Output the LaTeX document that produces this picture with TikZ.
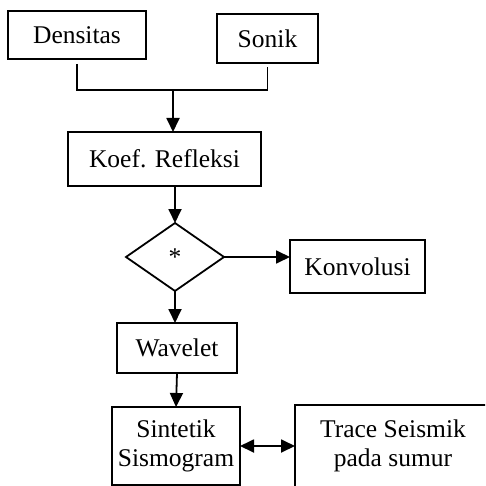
\documentclass[tikz,border=0pt]{standalone}
\usepackage{fontspec}
\setmainfont{Liberation Serif}
\usetikzlibrary{shapes.geometric,arrows.meta}
\begin{document}
\begin{tikzpicture}[x=1pt,y=-1pt,
  box/.style={draw,line width=1.8pt,inner sep=0pt,outer sep=0pt,align=center,
    font=\fontsize{25.5}{29}\selectfont},
  dia/.style={draw,diamond,line width=1.8pt,inner sep=0pt,outer sep=0pt,
    font=\fontsize{25.5}{29}\selectfont},
  arr/.style={line width=1.8pt,-{Triangle[length=14pt,width=13pt]}},
  darr/.style={line width=1.8pt,{Triangle[length=14pt,width=13pt]}-{Triangle[length=14pt,width=13pt]}},
  ln/.style={line width=1.8pt}]
\useasboundingbox (0,0) rectangle (485,486);
\clip (0,0) rectangle (485,486);
\fill[white] (0,0) rectangle (485,486);
\node[box,minimum width=138pt,minimum height=48pt] (dens) at (77,35) {Densitas};
\node[box,minimum width=101pt,minimum height=49pt] (son) at (267.5,38.5) {Sonik};
\node[box,minimum width=193pt,minimum height=54pt] (koef) at (164.5,159) {Koef. Refleksi};
\node[dia,minimum width=98pt,minimum height=68pt] (conv) at (175,257) {*};
\node[box,minimum width=135pt,minimum height=53pt] (konv) at (357.5,266.5) {Konvolusi};
\node[box,minimum width=120pt,minimum height=50pt] (wav) at (177,348) {Wavelet};
\node[box,minimum width=128pt,minimum height=78pt] (sin) at (176,446) {Sintetik\\Sismogram};
\node[box,minimum width=196pt,minimum height=82pt] (trace) at (393,446) {Trace Seismik\\pada sumur};
\coordinate (j) at (173,90);
\draw[ln,shorten <=5pt,shorten >=4pt] (dens.south) |- (j -| son.south) -- (son.south);
\draw[arr] (j) -- (j |- koef.north);
\draw[arr] (conv.north |- koef.south) -- (conv.north);
\draw[arr] (conv.east) -- (conv.east -| konv.west);
\draw[arr] (conv.south) -- (conv.south |- wav.north);
\draw[arr] (wav.south) -- (sin.north);
\draw[darr] (sin.east) -- (sin.east -| trace.west);
\end{tikzpicture}
\end{document}
